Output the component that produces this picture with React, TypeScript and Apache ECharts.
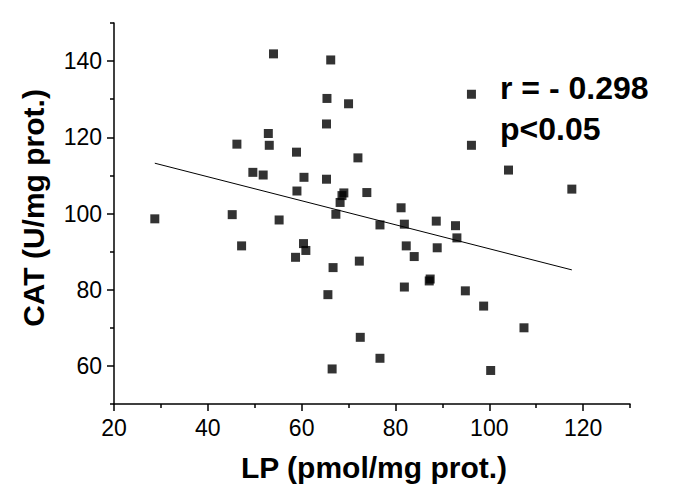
import React, { useEffect, useRef } from "react";
import * as echarts from "echarts";

// LP (pmol/mg prot.)
const lpValues = [
  28.7, 45.2, 46.2, 47.2, 49.6, 51.8, 52.9, 53.1, 54.0, 55.2,
  58.7, 58.9, 59.0, 60.4, 60.5, 60.9, 65.3, 65.3, 65.4, 65.6,
  66.2, 66.5, 66.7, 67.3, 68.2, 68.6, 69.0, 70.0, 72.0, 72.3,
  72.5, 73.9, 76.7, 76.7, 81.2, 81.9, 81.9, 82.3, 84.0, 87.2,
  87.4, 88.7, 88.9, 92.8, 93.1, 94.9, 96.2, 96.2, 98.8, 100.3,
  104.1, 107.4, 117.6,
];
// CAT (U/mg prot.)
const catValues = [
  98.6, 99.7, 118.2, 91.5, 110.8, 110.1, 121.0, 117.9, 141.9, 98.3,
  88.5, 116.1, 105.9, 92.1, 109.5, 90.3, 123.5, 109.0, 130.2, 78.7,
  140.3, 59.2, 85.8, 99.8, 102.9, 104.7, 105.4, 128.8, 114.6, 87.5,
  67.5, 105.5, 97.0, 62.0, 101.5, 97.2, 80.7, 91.5, 88.7, 82.3,
  82.8, 98.0, 91.0, 96.8, 93.6, 79.7, 131.3, 117.9, 75.7, 58.8,
  111.4, 70.0, 106.4,
];
// Regression line end points
const fitX = [28.7, 117.6];
const fitY = [113.2, 85.2];

const xMajorTicks = [20, 40, 60, 80, 100, 120];
const xMinorTicks = [30, 50, 70, 90, 110, 130];
const yMajorTicks = [60, 80, 100, 120, 140];
const yMinorTicks = [50, 70, 90, 110, 130, 150];

const xTitle = "LP (pmol/mg prot.)";
const yTitle = "CAT (U/mg prot.)";
const rText = "r = - 0.298";
const pText = "p<0.05";

const FONT = "'Liberation Sans', Arial, sans-serif";

export default function App() {
  const ref = useRef<HTMLDivElement>(null);
  useEffect(() => {
    if (!ref.current) return;
    const chart = echarts.init(ref.current, null, { renderer: "svg" });
    const axisLine = { show: true, lineStyle: { color: "#000", width: 1.5 } };
    const baseX = {
      type: "value",
      min: 20,
      max: 130,
      splitLine: { show: false },
      axisLine,
    };
    const baseY = {
      type: "value",
      min: 50,
      max: 150,
      splitLine: { show: false },
      axisLine,
    };
    chart.setOption({
      animation: false,
      backgroundColor: "#fff",
      grid: { left: 114, right: 47, top: 23, bottom: 88 },
      xAxis: [
        {
          ...baseX,
          axisTick: {
            show: true,
            length: 7,
            customValues: xMajorTicks,
            lineStyle: { color: "#000", width: 1.5 },
          },
          axisLabel: {
            customValues: xMajorTicks,
            color: "#000",
            fontFamily: FONT,
            fontSize: 23,
            margin: 12,
          },
        },
        {
          ...baseX,
          position: "bottom",
          axisLine: { show: false },
          axisTick: {
            show: true,
            length: 4,
            customValues: xMinorTicks,
            lineStyle: { color: "#000", width: 1.5 },
          },
          axisLabel: { show: false },
        },
      ],
      yAxis: [
        {
          ...baseY,
          axisTick: {
            show: true,
            length: 7,
            customValues: yMajorTicks,
            lineStyle: { color: "#000", width: 1.5 },
          },
          axisLabel: {
            customValues: yMajorTicks,
            color: "#000",
            fontFamily: FONT,
            fontSize: 23,
            margin: 12,
          },
        },
        {
          ...baseY,
          position: "left",
          axisLine: { show: false },
          axisTick: {
            show: true,
            length: 4,
            customValues: yMinorTicks,
            lineStyle: { color: "#000", width: 1.5 },
          },
          axisLabel: { show: false },
        },
      ],
      series: [
        {
          type: "scatter",
          symbol: "rect",
          symbolSize: 9,
          itemStyle: { color: "#000" },
          data: lpValues.map((x, i) => [x, catValues[i]]),
        },
        {
          type: "line",
          symbol: "none",
          lineStyle: { color: "#000", width: 1 },
          data: fitX.map((x, i) => [x, fitY[i]]),
        },
      ],
      graphic: [
        {
          type: "text",
          x: 374,
          y: 467,
          style: {
            text: xTitle,
            fill: "#000",
            font: `bold 30px ${FONT}`,
            align: "center",
            verticalAlign: "middle",
          },
        },
        {
          type: "text",
          x: 33,
          y: 208,
          rotation: Math.PI / 2,
          style: {
            text: yTitle,
            fill: "#000",
            font: `bold 30px ${FONT}`,
            align: "center",
            verticalAlign: "middle",
          },
        },
        {
          type: "text",
          x: 500,
          y: 88,
          style: {
            text: rText,
            fill: "#000",
            font: `bold 32px ${FONT}`,
            align: "left",
            verticalAlign: "middle",
          },
        },
        {
          type: "text",
          x: 500,
          y: 129,
          style: {
            text: pText,
            fill: "#000",
            font: `bold 32px ${FONT}`,
            align: "left",
            verticalAlign: "middle",
          },
        },
      ],
    });
    return () => chart.dispose();
  }, []);
  return (
    <div
      ref={ref}
      style={{ position: "fixed", left: 0, top: 0, width: 677, height: 492 }}
    />
  );
}
